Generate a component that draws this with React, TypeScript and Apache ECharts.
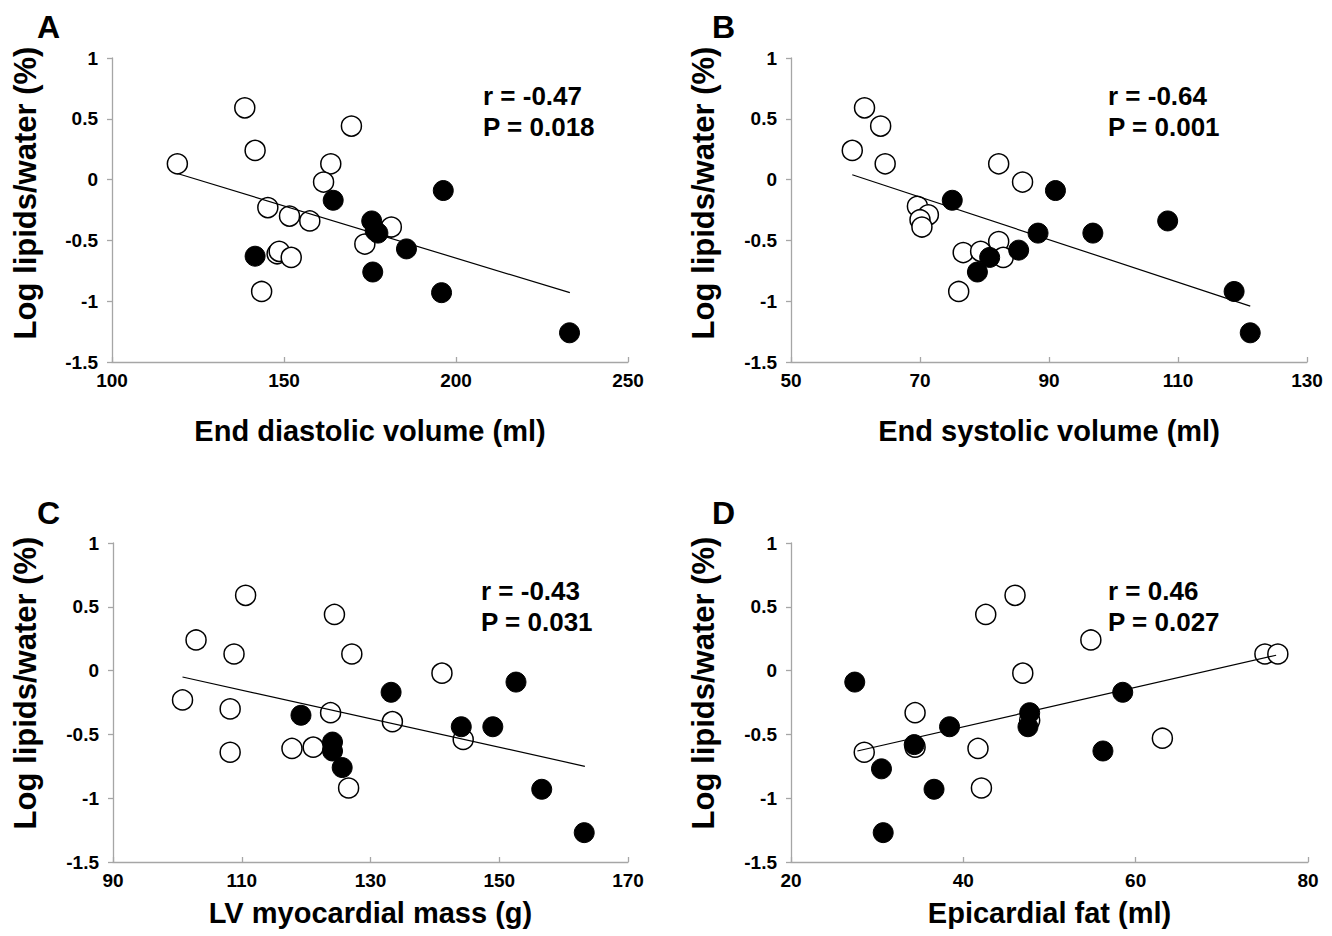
import React, { useEffect, useRef } from "react";
import * as echarts from "echarts";

// Panel A: End diastolic volume (ml)
const aOpenX = [119.0, 138.6, 141.6, 169.6, 163.6, 161.5, 145.3, 151.6, 157.5, 181.2, 173.5, 148.0, 148.6, 152.1, 143.5];
const aOpenY = [0.13, 0.59, 0.24, 0.44, 0.13, -0.02, -0.23, -0.3, -0.34, -0.39, -0.53, -0.61, -0.59, -0.64, -0.92];
const aFillX = [141.6, 164.3, 175.5, 176.5, 177.3, 196.3, 185.6, 175.8, 195.8, 233.0];
const aFillY = [-0.63, -0.17, -0.34, -0.42, -0.44, -0.09, -0.57, -0.76, -0.93, -1.26];
const aTrendX = [119.0, 233.1];
const aTrendY = [0.05, -0.93];

// Panel B: End systolic volume (ml)
const bOpenX = [61.4, 63.9, 59.5, 64.6, 82.2, 85.9, 69.6, 71.3, 70.0, 70.3, 76.7, 79.4, 82.2, 82.9, 76.0];
const bOpenY = [0.59, 0.44, 0.24, 0.13, 0.13, -0.02, -0.22, -0.29, -0.33, -0.39, -0.6, -0.59, -0.51, -0.64, -0.92];
const bFillX = [75.0, 91.0, 88.3, 96.8, 108.4, 85.3, 80.8, 78.9, 118.7, 121.2];
const bFillY = [-0.17, -0.09, -0.44, -0.44, -0.34, -0.58, -0.64, -0.76, -0.92, -1.26];
const bTrendX = [59.5, 121.2];
const bTrendY = [0.04, -1.04];

// Panel C: LV myocardial mass (g)
const cOpenX = [110.6, 124.4, 102.9, 108.8, 127.1, 141.1, 100.8, 108.2, 123.8, 133.4, 144.4, 117.8, 121.1, 108.2, 126.6];
const cOpenY = [0.59, 0.44, 0.24, 0.13, 0.13, -0.02, -0.23, -0.3, -0.33, -0.4, -0.54, -0.61, -0.6, -0.64, -0.92];
const cFillX = [119.2, 133.2, 152.6, 144.1, 149.0, 124.1, 124.1, 125.6, 156.6, 163.2];
const cFillY = [-0.35, -0.17, -0.09, -0.44, -0.44, -0.56, -0.63, -0.76, -0.93, -1.27];
const cTrendX = [100.8, 163.3];
const cTrendY = [-0.05, -0.75];

// Panel D: Epicardial fat (ml)
const dOpenX = [46.0, 42.6, 54.8, 75.0, 76.5, 46.9, 34.4, 47.7, 63.1, 28.5, 41.7, 34.4, 42.1];
const dOpenY = [0.59, 0.44, 0.24, 0.13, 0.13, -0.02, -0.33, -0.39, -0.53, -0.64, -0.61, -0.6, -0.92];
const dFillX = [27.4, 58.5, 38.4, 47.7, 47.5, 34.3, 56.2, 30.5, 36.6, 30.7];
const dFillY = [-0.09, -0.17, -0.44, -0.33, -0.44, -0.58, -0.63, -0.77, -0.93, -1.27];
const dTrendX = [27.7, 76.3];
const dTrendY = [-0.63, 0.12];

const panelLetters = ["A", "B", "C", "D"];
const xTitles = ["End diastolic volume (ml)", "End systolic volume (ml)", "LV myocardial mass (g)", "Epicardial fat (ml)"];
const yTitle = "Log lipids/water (%)";
const statTexts = ["r = -0.47\nP = 0.018", "r = -0.64\nP = 0.001", "r = -0.43\nP = 0.031", "r = 0.46\nP = 0.027"];
const xMins = [100, 50, 90, 20];
const xMaxs = [250, 130, 170, 80];
const xIntervals = [50, 20, 20, 20];
const yMin = -1.5;
const yMax = 1;
const yInterval = 0.5;

const FONT = "'Liberation Sans', Arial, Helvetica, sans-serif";

const zip = (xs: number[], ys: number[]) => xs.map((x, i) => [x, ys[i]]);

export default function App() {
  const ref = useRef<HTMLDivElement>(null);
  useEffect(() => {
    document.body.style.margin = "0";
    if (!ref.current) return;
    const chart = echarts.init(ref.current, undefined, { renderer: "svg" });

    const grids = [
      { left: 112, top: 58, width: 516, height: 304 },
      { left: 791, top: 58, width: 516, height: 304 },
      { left: 113, top: 543, width: 515, height: 319 },
      { left: 791, top: 543, width: 517, height: 319 },
    ];
    const nameGaps = [54, 54, 36, 36];

    const panels = [
      { open: zip(aOpenX, aOpenY), fill: zip(aFillX, aFillY), trend: zip(aTrendX, aTrendY) },
      { open: zip(bOpenX, bOpenY), fill: zip(bFillX, bFillY), trend: zip(bTrendX, bTrendY) },
      { open: zip(cOpenX, cOpenY), fill: zip(cFillX, cFillY), trend: zip(cTrendX, cTrendY) },
      { open: zip(dOpenX, dOpenY), fill: zip(dFillX, dFillY), trend: zip(dTrendX, dTrendY) },
    ];

    const axisLine = { show: true, onZero: false, lineStyle: { color: "#a6a6a6", width: 1.3 } };
    const axisTick = { show: true, length: 5, lineStyle: { color: "#a6a6a6", width: 1.3 } };

    const xAxis = grids.map((_, i) => ({
      type: "value",
      gridIndex: i,
      min: xMins[i],
      max: xMaxs[i],
      interval: xIntervals[i],
      name: xTitles[i],
      nameLocation: "middle",
      nameGap: nameGaps[i],
      nameTextStyle: { color: "#000", fontSize: 29, fontWeight: "bold", fontFamily: FONT },
      axisLine,
      axisTick: { ...axisTick, inside: true },
      splitLine: { show: false },
      axisLabel: { color: "#000", fontSize: 19, fontWeight: "bold", fontFamily: FONT, margin: 9 },
    }));

    const yAxis = grids.map((_, i) => ({
      type: "value",
      gridIndex: i,
      min: yMin,
      max: yMax,
      interval: yInterval,
      axisLine,
      axisTick,
      splitLine: { show: false },
      axisLabel: { color: "#000", fontSize: 19, fontWeight: "bold", fontFamily: FONT, margin: 14 },
    }));

    const series: any[] = [];
    panels.forEach((p, i) => {
      series.push({
        type: "scatter",
        xAxisIndex: i,
        yAxisIndex: i,
        data: p.open,
        symbol: "circle",
        symbolSize: 20,
        itemStyle: { color: "#fff", borderColor: "#000", borderWidth: 1.5, opacity: 1 },
        z: 2,
      });
      series.push({
        type: "scatter",
        xAxisIndex: i,
        yAxisIndex: i,
        data: p.fill,
        symbol: "circle",
        symbolSize: 20,
        itemStyle: { color: "#000", borderColor: "#000", borderWidth: 1, opacity: 1 },
        z: 3,
      });
      series.push({
        type: "line",
        xAxisIndex: i,
        yAxisIndex: i,
        data: p.trend,
        showSymbol: false,
        symbol: "none",
        lineStyle: { color: "#000", width: 1.2 },
        z: 4,
      });
    });

    const letterPos = [
      { left: 37, top: 11 },
      { left: 712, top: 11 },
      { left: 37, top: 497 },
      { left: 712, top: 497 },
    ];
    const statPos = [
      { left: 483, top: 80 },
      { left: 1108, top: 80 },
      { left: 481, top: 575 },
      { left: 1108, top: 575 },
    ];
    const yTitlePos = [
      { x: 25, y: 193 },
      { x: 703, y: 193 },
      { x: 25, y: 683 },
      { x: 703, y: 683 },
    ];

    const graphic: any[] = [];
    panelLetters.forEach((l, i) => {
      graphic.push({
        type: "text",
        left: letterPos[i].left,
        top: letterPos[i].top,
        style: { text: l, fill: "#000", font: `bold 32px ${FONT}` },
      });
    });
    statTexts.forEach((t, i) => {
      graphic.push({
        type: "text",
        left: statPos[i].left,
        top: statPos[i].top,
        style: { text: t, fill: "#000", font: `bold 26px ${FONT}`, lineHeight: 31 },
      });
    });
    yTitlePos.forEach((p) => {
      graphic.push({
        type: "text",
        x: p.x,
        y: p.y,
        rotation: Math.PI / 2,
        style: {
          text: yTitle,
          fill: "#000",
          font: `bold 31px ${FONT}`,
          textAlign: "center",
          textVerticalAlign: "middle",
        },
      });
    });

    chart.setOption({
      animation: false,
      backgroundColor: "#fff",
      grid: grids,
      xAxis,
      yAxis,
      series,
      graphic,
    });
    return () => chart.dispose();
  }, []);
  return <div ref={ref} style={{ width: 1332, height: 936 }} />;
}
